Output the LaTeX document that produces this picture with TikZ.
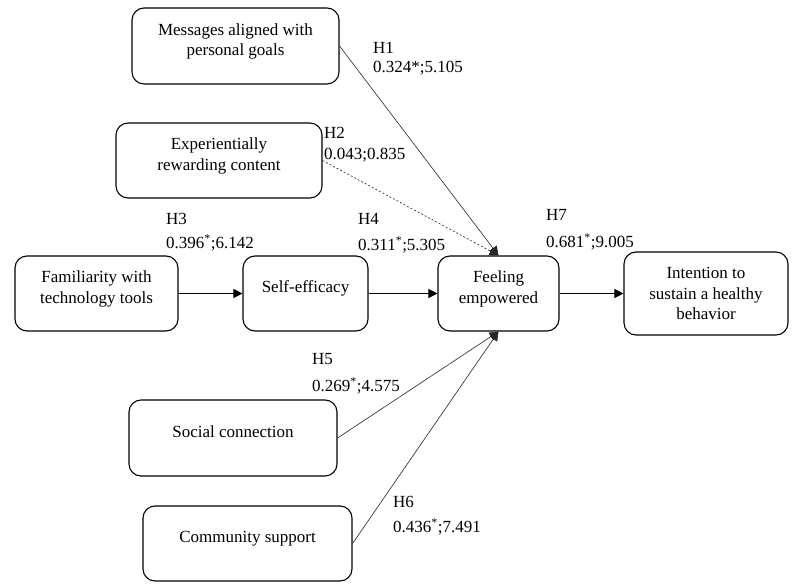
\documentclass[tikz,border=0pt]{standalone}
\usepackage{fontspec}
\setmainfont{Liberation Serif}
\usetikzlibrary{arrows.meta}
\newcommand{\dn}{\rule[-13pt]{0pt}{13pt}}
\begin{document}
\begin{tikzpicture}[x=1pt,y=-1pt,
  box/.style={draw, line width=1.1pt, rounded corners=12pt, align=center,
    font=\fontsize{17}{20.5}\selectfont, inner sep=0pt},
  lab/.style={anchor=west, inner sep=0pt, font=\fontsize{17}{20}\selectfont},
  conn/.style={line width=0.6pt, draw=black!85, -{Triangle[length=9pt,width=9pt]}},
  hconn/.style={line width=0.9pt, -{Triangle[length=9pt,width=9pt]}}]
\useasboundingbox (0,0) rectangle (800,588);
\fill[white] (0,0) rectangle (800,588);

\node[box, minimum width=207pt, minimum height=76pt] (msg) at (235.5,46) {Messages aligned with\\personal goals\dn};
\node[box, minimum width=206pt, minimum height=75pt] (exp) at (219,160.5) {Experientially\\rewarding content\dn};
\node[box, minimum width=163pt, minimum height=75pt] (fam) at (96.5,293.5) {Familiarity with\\technology tools\dn};
\node[box, minimum width=125pt, minimum height=75pt] (self) at (305.5,293.5) {Self-efficacy\dn};
\node[box, minimum width=121pt, minimum height=75pt] (feel) at (498.5,293.5) {Feeling\\empowered\dn};
\node[box, minimum width=164pt, minimum height=83pt] (int) at (706,293.5) {Intention to\\sustain a healthy\\behavior};
\node[box, minimum width=208pt, minimum height=76pt] (soc) at (233,438) {Social connection\dn};
\node[box, minimum width=209pt, minimum height=75pt] (com) at (247.5,543.5) {Community support\dn};

\draw[hconn] (fam.east) -- (self.west);
\draw[hconn] (self.east) -- (feel.west);
\draw[hconn] (feel.east) -- (int.west);
\draw[conn] (msg.east) -- (feel.north);
\draw[conn, dash pattern=on 2pt off 2pt] (exp.east) -- (feel.north);
\draw[conn] (soc.east) -- (feel.south);
\draw[conn] (com.east) -- (feel.south);

\node[lab] (h1a) at (373,48) {H1};
\node[lab] (h1b) at (373,68) {0.324*;5.105};
\node[lab] (h2a) at (324,133) {H2};
\node[lab] (h2b) at (324,155) {0.043;0.835};
\node[lab] (h3a) at (166,219) {H3};
\node[lab] (h3b) at (166,243) {0.396\textsuperscript{*};6.142};
\node[lab] (h4a) at (358,219) {H4};
\node[lab] (h4b) at (358,245) {0.311\textsuperscript{*};5.305};
\node[lab] (h7a) at (546,215) {H7};
\node[lab] (h7b) at (546,242) {0.681\textsuperscript{*};9.005};
\node[lab] (h5a) at (312,359) {H5};
\node[lab] (h5b) at (312,386) {0.269\textsuperscript{*};4.575};
\node[lab] (h6a) at (393,502) {H6};
\node[lab] (h6b) at (393,527) {0.436\textsuperscript{*};7.491};
\end{tikzpicture}
\end{document}
